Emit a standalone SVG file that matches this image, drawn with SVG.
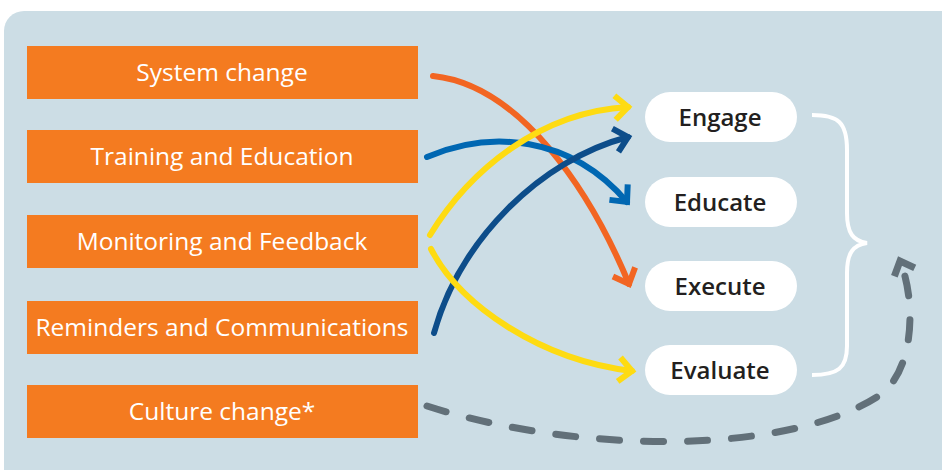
<svg xmlns="http://www.w3.org/2000/svg" width="942" height="470" viewBox="0 0 942 470">
<style>
.box{fill:#f47b20}
.btxt{font-family:"Open Sans","Noto Sans","DejaVu Sans",sans-serif;font-size:24.5px;font-weight:500;fill:#ffffff;text-anchor:middle}
.pill{fill:#ffffff}
.ptxt{font-family:"Open Sans","Noto Sans","DejaVu Sans",sans-serif;font-size:24px;font-weight:600;fill:#231f20;text-anchor:middle}
.arr{fill:none;stroke-width:6;stroke-linecap:round}
</style>
<defs>
<marker id="mO" markerUnits="userSpaceOnUse" markerWidth="40" markerHeight="40" orient="auto" refX="0" refY="0" viewBox="-30 -20 40 40" overflow="visible"><path d="M-13,-12 L0,0 L-13,12" fill="none" stroke="#f26522" stroke-width="6"/></marker>
<marker id="mY" markerUnits="userSpaceOnUse" markerWidth="40" markerHeight="40" orient="auto" refX="0" refY="0" viewBox="-30 -20 40 40" overflow="visible"><path d="M-13,-12 L0,0 L-13,12" fill="none" stroke="#fedb12" stroke-width="6"/></marker>
<marker id="mB" markerUnits="userSpaceOnUse" markerWidth="40" markerHeight="40" orient="auto" refX="0" refY="0" viewBox="-30 -20 40 40" overflow="visible"><path d="M-13,-12 L0,0 L-13,12" fill="none" stroke="#0067b2" stroke-width="6"/></marker>
<marker id="mD" markerUnits="userSpaceOnUse" markerWidth="40" markerHeight="40" orient="auto" refX="0" refY="0" viewBox="-30 -20 40 40" overflow="visible"><path d="M-13,-12 L0,0 L-13,12" fill="none" stroke="#0d4d8a" stroke-width="6"/></marker>
<marker id="mG" markerUnits="userSpaceOnUse" markerWidth="40" markerHeight="40" orient="auto" refX="0" refY="0" viewBox="-30 -20 40 40" overflow="visible"><path d="M-12,-11 L0,0 L-12,11" fill="none" stroke="#627079" stroke-width="7"/></marker>
</defs>
<rect x="4" y="11" width="960" height="480" rx="20" ry="20" fill="#ccdde5"/>

<g id="system-change"><rect class="box" x="27" y="46" width="391" height="53"/><text class="btxt" x="222" y="81">System change</text></g>
<g id="training-education"><rect class="box" x="27" y="130" width="391" height="53"/><text class="btxt" x="222" y="165">Training and Education</text></g>
<g id="monitoring-feedback"><rect class="box" x="27" y="215" width="391" height="53"/><text class="btxt" x="222" y="250">Monitoring and Feedback</text></g>
<g id="reminders-communications"><rect class="box" x="27" y="301" width="391" height="53"/><text class="btxt" x="222" y="336">Reminders and Communications</text></g>
<g id="culture-change"><rect class="box" x="27" y="385" width="391" height="53"/><text class="btxt" x="222" y="420">Culture change*</text></g>

<g id="engage"><rect class="pill" x="645" y="92" width="152" height="50" rx="25"/><text class="ptxt" x="720" y="126">Engage</text></g>
<g id="educate"><rect class="pill" x="645" y="177" width="152" height="50" rx="25"/><text class="ptxt" x="720" y="211">Educate</text></g>
<g id="execute"><rect class="pill" x="645" y="261" width="152" height="50" rx="25"/><text class="ptxt" x="720" y="295">Execute</text></g>
<g id="evaluate"><rect class="pill" x="645" y="345" width="152" height="50" rx="25"/><text class="ptxt" x="720" y="379">Evaluate</text></g>

<g id="brace"><path d="M812,115 C838,115 847,122 847,150 L847,213 C847,233 853,241 867,243 C853,245 847,253 847,273 L847,346 C847,368 838,375 812,375" fill="none" stroke="#ffffff" stroke-width="4"/></g>

<g id="connectors">
<path class="arr" stroke="#f26522" d="M433,76 C520,85 590,190 629,284" marker-end="url(#mO)"/>
<path class="arr" stroke="#0067b2" d="M427,157 C490,130 570,135 627,202" marker-end="url(#mB)"/>
<path class="arr" stroke="#fedb12" d="M430,235 C470,170 540,112 628,107" marker-end="url(#mY)"/>
<path class="arr" stroke="#0d4d8a" d="M434,333 C460,240 540,160 628,137" marker-end="url(#mD)"/>
<path class="arr" stroke="#fedb12" d="M431,249 C460,305 540,360 632,371" marker-end="url(#mY)"/>
<path fill="none" stroke="#627079" stroke-width="7" stroke-linecap="round" stroke-dasharray="20 24" d="M427,406 C580,455 790,455 880,395 C915,370 916,300 900,261" marker-end="url(#mG)"/>
</g>
</svg>
